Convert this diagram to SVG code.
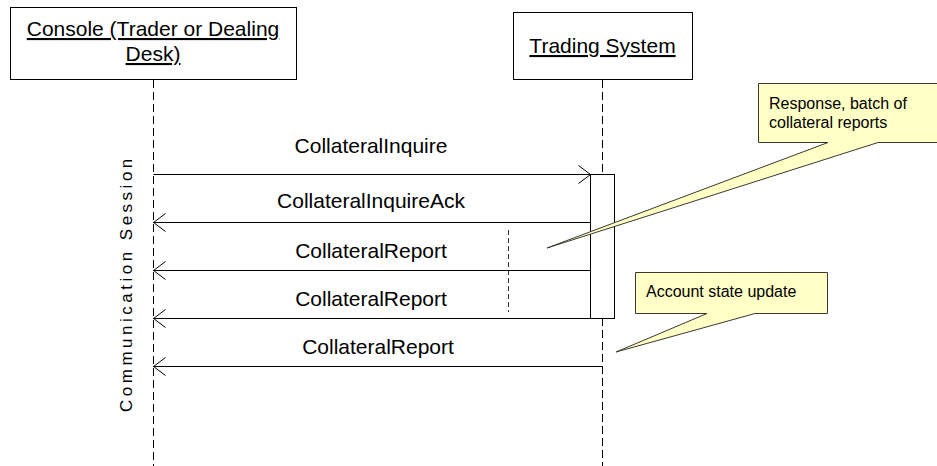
<svg xmlns="http://www.w3.org/2000/svg" width="937" height="466" viewBox="0 0 937 466">
<defs>
<style>
text{font-family:"Liberation Sans",Arial,sans-serif;fill:#000}
.title{font-size:21px;text-anchor:middle;text-decoration:underline}
.lbl{font-size:21px;text-anchor:middle}
.note-t{font-size:16px}
.box{fill:#fff;stroke:#000;stroke-width:1}
.life{stroke:#000;stroke-width:1;stroke-dasharray:8 4;fill:none}
.msg{stroke:#000;stroke-width:1;fill:none;marker-end:url(#open)}
.note{fill:#FFFFC6;stroke:#3a3a30;stroke-width:1}
</style>
<marker id="open" markerUnits="userSpaceOnUse" markerWidth="14" markerHeight="20" refX="12" refY="9" orient="auto" overflow="visible">
<path d="M0,0 L12,9 L0,18" fill="none" stroke="#000" stroke-width="1"/>
</marker>
</defs>
<rect width="937" height="466" fill="#fff"/>

<g id="console">
<rect class="box" x="10.5" y="7.5" width="286" height="72"/>
<text class="title" x="153" y="36">Console (Trader or Dealing</text>
<text class="title" x="153" y="61">Desk)</text>
<line class="life" x1="153.5" y1="80" x2="153.5" y2="466"/>
</g>

<g id="trading-system">
<rect class="box" x="513.5" y="12.5" width="179" height="67"/>
<text class="title" x="602.5" y="53">Trading System</text>
<line class="life" x1="602.5" y1="80" x2="602.5" y2="174"/>
<line class="life" x1="602.5" y1="318" x2="602.5" y2="466"/>
<rect class="box" x="590.5" y="174.5" width="24" height="144"/>
</g>

<g id="session-label">
<text transform="translate(132,412) rotate(-90)" font-size="17" letter-spacing="3.5">Communication Session</text>
</g>

<g id="batch-marker">
<line x1="508.5" y1="230" x2="508.5" y2="312" stroke="#333" stroke-width="1" stroke-dasharray="5 3"/>
</g>

<g id="connectors">
<line class="msg" x1="153.5" y1="174.5" x2="590.5" y2="174.5"/>
<line class="msg" x1="590.5" y1="222.5" x2="153.5" y2="222.5"/>
<line class="msg" x1="590.5" y1="270.5" x2="153.5" y2="270.5"/>
<line class="msg" x1="590.5" y1="318.5" x2="153.5" y2="318.5"/>
<line class="msg" x1="602.5" y1="366.5" x2="153.5" y2="366.5"/>
<text class="lbl" x="371" y="153">CollateralInquire</text>
<text class="lbl" x="371" y="208">CollateralInquireAck</text>
<text class="lbl" x="371" y="258">CollateralReport</text>
<text class="lbl" x="371" y="306">CollateralReport</text>
<text class="lbl" x="378" y="354">CollateralReport</text>
</g>

<g id="note-batch">
<path class="note" d="M758.5,83.5 H945 V142.5 H878 L547,248 L828,142.5 H758.5 Z"/>
<text class="note-t" x="769" y="109">Response, batch of</text>
<text class="note-t" x="769" y="128">collateral reports</text>
</g>

<g id="note-account">
<path class="note" d="M635.5,272.5 H827.5 V313.5 H755 L616,352 L707,313.5 H635.5 Z"/>
<text class="note-t" x="646" y="297">Account state update</text>
</g>
</svg>
